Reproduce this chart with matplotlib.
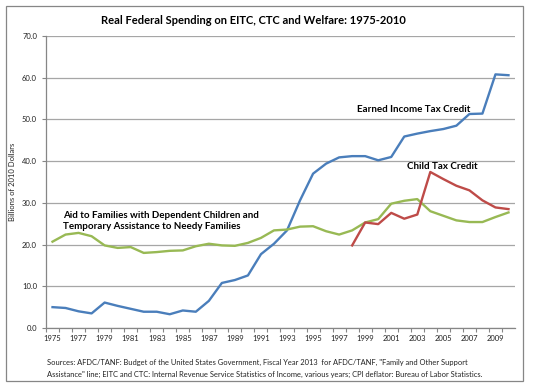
import matplotlib
matplotlib.use('Agg')
import matplotlib.pyplot as plt
from matplotlib.patches import Rectangle

plt.rcParams['font.family'] = ['Lato', 'DejaVu Sans']

# Jahre 1975-2010
years = list(range(1975, 2011))

# Earned Income Tax Credit (Mrd. Dollar von 2010)
eitc = [5.0, 4.8, 4.0, 3.5, 6.1, 5.3, 4.6, 3.9, 3.9, 3.3, 4.2, 3.9,
        6.5, 10.8, 11.5, 12.6, 17.7, 20.2, 23.4, 30.6, 37.0, 39.4, 40.9, 41.2,
        41.2, 40.2, 41.0, 45.9, 46.6, 47.2, 47.7, 48.5, 51.3, 51.4, 60.8, 60.6]

# AFDC / TANF
afdc = [20.7, 22.4, 22.8, 22.0, 19.8, 19.2, 19.4, 18.0, 18.2, 18.5, 18.6, 19.6,
        20.2, 19.8, 19.7, 20.4, 21.6, 23.4, 23.6, 24.3, 24.4, 23.2, 22.4, 23.4,
        25.3, 26.1, 29.8, 30.5, 30.9, 28.0, 26.9, 25.8, 25.4, 25.4, 26.6, 27.7]

# Child Tax Credit ab 1998
ctc_years = list(range(1998, 2011))
ctc = [19.8, 25.3, 24.9, 27.6, 26.2, 27.2, 37.4, 35.7, 34.1, 33.0, 30.6, 28.9, 28.5]

yticks = [0, 10, 20, 30, 40, 50, 60, 70]
xlabels = list(range(1975, 2010, 2))

fig = plt.figure(figsize=(5.33, 3.9), dpi=100)
ax = fig.add_axes([46/533, 1-328/390, (515-46)/533, (328-36)/390])

ax.plot(years, eitc, color='#4a7ebb', lw=1.7)
ax.plot(years, afdc, color='#98b954', lw=1.7)
ax.plot(ctc_years, ctc, color='#be4b48', lw=1.7)

ax.set_xlim(1974.5, 2010.5)
ax.set_ylim(0, 70)
ax.set_yticks(yticks)
ax.set_yticklabels([f'{v:.1f}' for v in yticks])
ax.yaxis.grid(True, color='#a6a6a6', lw=0.9)
ax.set_axisbelow(True)

# Kategorie-Achse: Striche zwischen den Jahren, Beschriftung jedes zweite Jahr
ax.set_xticks([y + 0.5 for y in range(1974, 2010)])
ax.set_xticklabels([])
ax.set_xticks(xlabels, minor=True)
ax.set_xticklabels([str(y) for y in xlabels], minor=True)
ax.tick_params(axis='x', which='major', length=3, color='#868686', width=0.8)
ax.tick_params(axis='x', which='minor', length=0, labelsize=5.5, pad=5, labelcolor='#222222')
ax.tick_params(axis='y', length=3, color='#868686', width=0.8, labelsize=5.5, labelcolor='#222222')

for s in ['top', 'right']:
    ax.spines[s].set_visible(False)
for s in ['left', 'bottom']:
    ax.spines[s].set_color('#868686')
    ax.spines[s].set_linewidth(0.9)

ax.set_ylabel('Billions of 2010 Dollars', fontsize=5.5, labelpad=4, color='#222222')

ax.text(1998.4, 52.5, 'Earned Income Tax Credit', fontsize=7, fontweight='bold', va='center')
ax.text(2002.2, 38.7, 'Child Tax Credit', fontsize=7, fontweight='bold', va='center')
ax.text(1975.8, 25.6, 'Aid to Families with Dependent Children and\nTemporary Assistance to Needy Families',
        fontsize=7, fontweight='bold', va='center', linespacing=1.35)

fig.text(253/533, 1-20/390, 'Real Federal Spending on EITC, CTC and Welfare: 1975-2010',
         fontsize=8, fontweight='bold', ha='center', va='center')

fig.text(47/533, 1-362.5/390,
         'Sources: AFDC/TANF: Budget of the United States Government, Fiscal Year 2013  for AFDC/TANF, "Family and Other Support',
         fontsize=5.45, va='center', color='#222222')
fig.text(47/533, 1-374/390,
         'Assistance" line; EITC and CTC: Internal Revenue Service Statistics of Income, various years; CPI deflator: Bureau of Labor Statistics.',
         fontsize=5.45, va='center', color='#222222')

fig.patches.append(Rectangle((6/533, 1-381/390), (523-6)/533, (381-6)/390,
                             transform=fig.transFigure, fill=False,
                             edgecolor='#868686', lw=0.9))

fig.savefig('out.png', dpi=100)
